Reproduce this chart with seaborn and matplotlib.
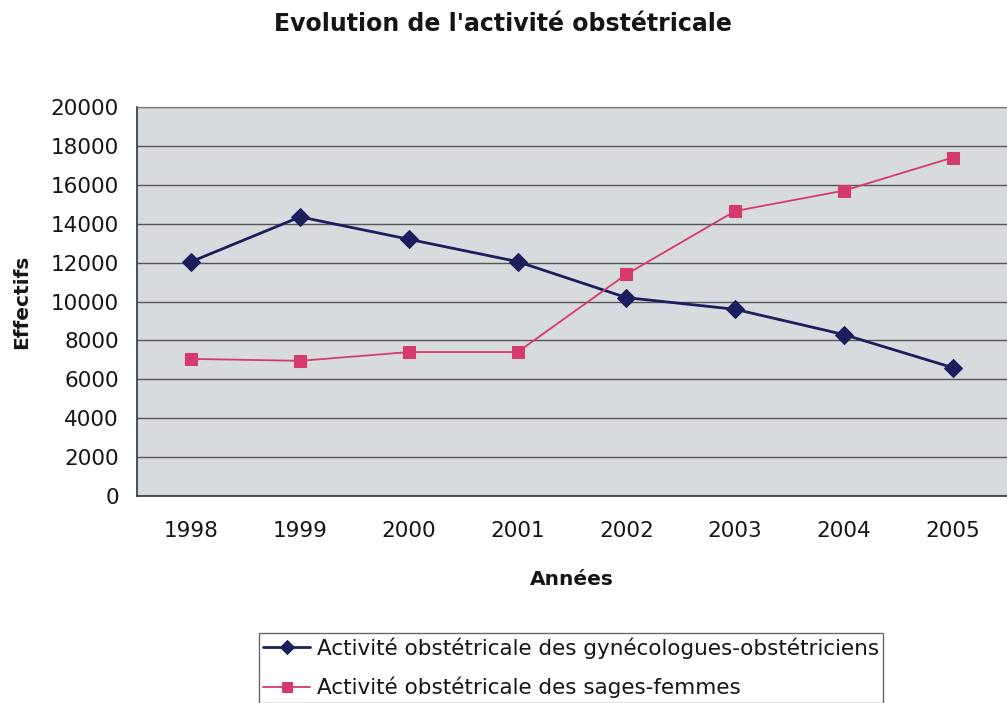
"""
Evolution de l'activité obstétricale – courbe gynécologues vs sages-femmes.
"""

import matplotlib
matplotlib.use('Agg')
import matplotlib.pyplot as plt
import seaborn as sns
import pandas as pd

years = ['1998', '1999', '2000', '2001', '2002', '2003', '2004', '2005']
gyneco = [12050, 14350, 13200, 12050, 10200, 9600, 8300, 6600]
sages_femmes = [7050, 6950, 7400, 7400, 11400, 14650, 15700, 17400]
label_gyneco = 'Activité obstétricale des gynécologues-obstétriciens'
label_sf = 'Activité obstétricale des sages-femmes'
yticks = list(range(0, 20001, 2000))

NAVY = '#1b1d5c'
PINK = '#d63a6c'

sns.set_style('white')
# the scanned chart has wide lettering, DejaVu is closer than Arial here
plt.rcParams['font.family'] = ['DejaVu Sans']
plt.rcParams['text.color'] = '#151515'
plt.rcParams['xtick.color'] = '#151515'
plt.rcParams['ytick.color'] = '#151515'
plt.rcParams['axes.labelcolor'] = '#151515'

fig = plt.figure(figsize=(10.07, 7.03), dpi=100)
ax = fig.add_axes([137 / 1007, 1 - 496 / 703, 870 / 1007, 389 / 703])
ax.set_facecolor('#d8dbde')

df = pd.DataFrame({'annee': years, 'gyneco': gyneco, 'sf': sages_femmes})
sns.lineplot(data=df, x='annee', y='gyneco', ax=ax, color=NAVY, lw=2,
             marker='D', markersize=9, markeredgecolor=NAVY, label=label_gyneco)
sns.lineplot(data=df, x='annee', y='sf', ax=ax, color=PINK, lw=1.3,
             marker='s', markersize=9, markeredgecolor=PINK, label=label_sf)

ax.set_xlim(-0.5, len(years) - 0.5)
ax.set_ylim(0, 20000)
ax.set_yticks(yticks)
ax.set_yticklabels([str(v) for v in yticks], fontsize=15.5)
ax.yaxis.grid(True, color='#555555', lw=1)
ax.set_axisbelow(True)

# ticks between categories, like the original spreadsheet chart
ax.set_xticks(range(len(years)))
ax.set_xticklabels(years, fontsize=15.5)
ax.set_xticks([i + 0.5 for i in range(len(years) - 1)], minor=True)
ax.tick_params(axis='x', which='major', length=0, pad=18)
ax.tick_params(axis='x', which='minor', length=7, width=1, color='#333333', direction='out')
ax.tick_params(axis='y', length=7, width=1, color='#333333', direction='out', pad=6)

for side in ['left', 'bottom']:
    ax.spines[side].set_color('#333333')
    ax.spines[side].set_linewidth(1.2)
ax.spines['top'].set_color('#777777')
ax.spines['right'].set_visible(False)

ax.set_xlabel('Années', fontsize=14.5, fontweight='bold', labelpad=21)
ax.set_ylabel('Effectifs', fontsize=14.5, fontweight='bold', labelpad=14)

fig.text(503 / 1007, 1 - 24 / 703, "Evolution de l'activité obstétricale",
         ha='center', va='center', fontsize=17, fontweight='bold')

leg = ax.legend(loc='upper left', bbox_to_anchor=(248 / 1007, 1 - 622 / 703),
                bbox_transform=fig.transFigure, fontsize=15.5, frameon=True,
                fancybox=False, edgecolor='#444444', handlelength=2.2,
                handletextpad=0.3, borderpad=0.2, labelspacing=0.85)
leg.get_frame().set_linewidth(1)
for h in leg.legend_handles:
    h.set_markersize(7)

fig.savefig('out.png', dpi=100, facecolor='white')
